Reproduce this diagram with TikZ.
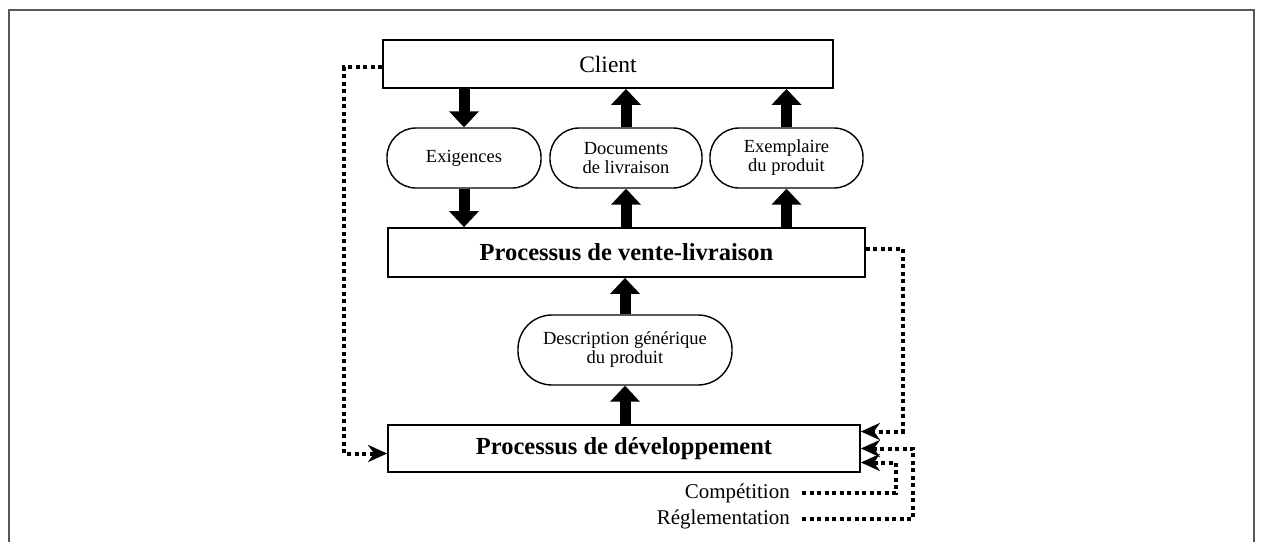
\documentclass[tikz,border=0pt]{standalone}
\usepackage{fontspec}
\setmainfont{Liberation Serif}
\usetikzlibrary{arrows.meta,calc}

\tikzset{
  procbox/.style={draw=black, line width=1.8pt, fill=white, inner sep=0pt,
    font=\fontsize{24.5}{28}\selectfont\bfseries},
  clientbox/.style={procbox, font=\fontsize{23.5}{28}\selectfont},
  flowoval/.style={draw=black, line width=1.4pt, fill=white, inner sep=0pt,
    rounded corners=29pt, align=center,
    font=\fontsize{18.5}{19}\selectfont},
  sidelabel/.style={inner sep=0pt, anchor=east,
    font=\fontsize{21}{24}\selectfont},
  fat/.style={line width=11pt,
    -{Triangle[length=16pt,width=29pt]}, shorten >=0pt},
  dots/.style={line width=4pt, dash pattern=on 4pt off 3.5pt,
    -{Stealth[length=19pt,width=17pt,inset=6pt]}},
  frameline/.style={draw=black!65, line width=2pt}
}

\begin{document}
\begin{tikzpicture}[x=1pt,y=-1pt]
  \useasboundingbox (0,0) rectangle (1261,541);

  % outer frame, open at the bottom edge
  \draw[frameline] (9,560) -- (9,10) -- (1254,10) -- (1254,560);

  % process boxes
  \node[clientbox, minimum width=450pt, minimum height=48pt] (client) at (608,64) {Client};
  \node[procbox, minimum width=477pt, minimum height=49pt] (vente) at (626.5,252.5) {Processus de vente-livraison};
  \node[procbox, minimum width=472pt, minimum height=47pt] (dev) at (624,448.5) {Processus de développement};

  % exchanged items
  \node[flowoval, minimum width=154pt, minimum height=60pt] (ex) at (464,158) {Exigences};
  \node[flowoval, minimum width=152pt, minimum height=60pt] (doc) at (626,158) {Documents\\de livraison};
  \node[flowoval, minimum width=153pt, minimum height=60pt] (exm) at (786.5,158) {Exemplaire\\du produit};
  \node[flowoval, minimum width=214pt, minimum height=70pt, rounded corners=34pt] (desc) at (625,350) {Description générique\\du produit};

  % external influences
  \node[sidelabel] (comp) at (790,493) {Compétition};
  \node[sidelabel] (regl) at (790,519) {Réglementation};

  % main flows
  \draw[fat] (client.south -| ex.north) -- (ex.north);
  \draw[fat] (ex.south) -- (vente.north -| ex.south);
  \draw[fat] (vente.north -| doc.south) -- (doc.south);
  \draw[fat] (doc.north) -- (client.south -| doc.north);
  \draw[fat] (vente.north -| exm.south) -- (exm.south);
  \draw[fat] (exm.north) -- (client.south -| exm.north);
  \draw[fat] (dev.north -| desc.south) -- (desc.south);
  \draw[fat] (desc.north) -- (vente.south -| desc.north);

  % feedback inputs to development
  \coordinate (in0) at ($(dev.west)+(0,5)$);
  \coordinate (in1) at ($(dev.east)+(0,-17)$);
  \coordinate (in2) at (dev.east);
  \coordinate (in3) at ($(dev.east)+(0,14)$);

  \draw[dots] ($(client.west)+(0,3)$) -| ([xshift=-43pt]in0) -- (in0);
  \draw[dots] ($(vente.east)+(0,-4)$) -| ([xshift=42pt]in1) -- (in1);
  \draw[dots] ([xshift=12pt]regl.east) -| ([xshift=52pt]in2) -- (in2);
  \draw[dots] ([xshift=12pt]comp.east) -| ([xshift=35pt]in3) -- (in3);
\end{tikzpicture}
\end{document}
